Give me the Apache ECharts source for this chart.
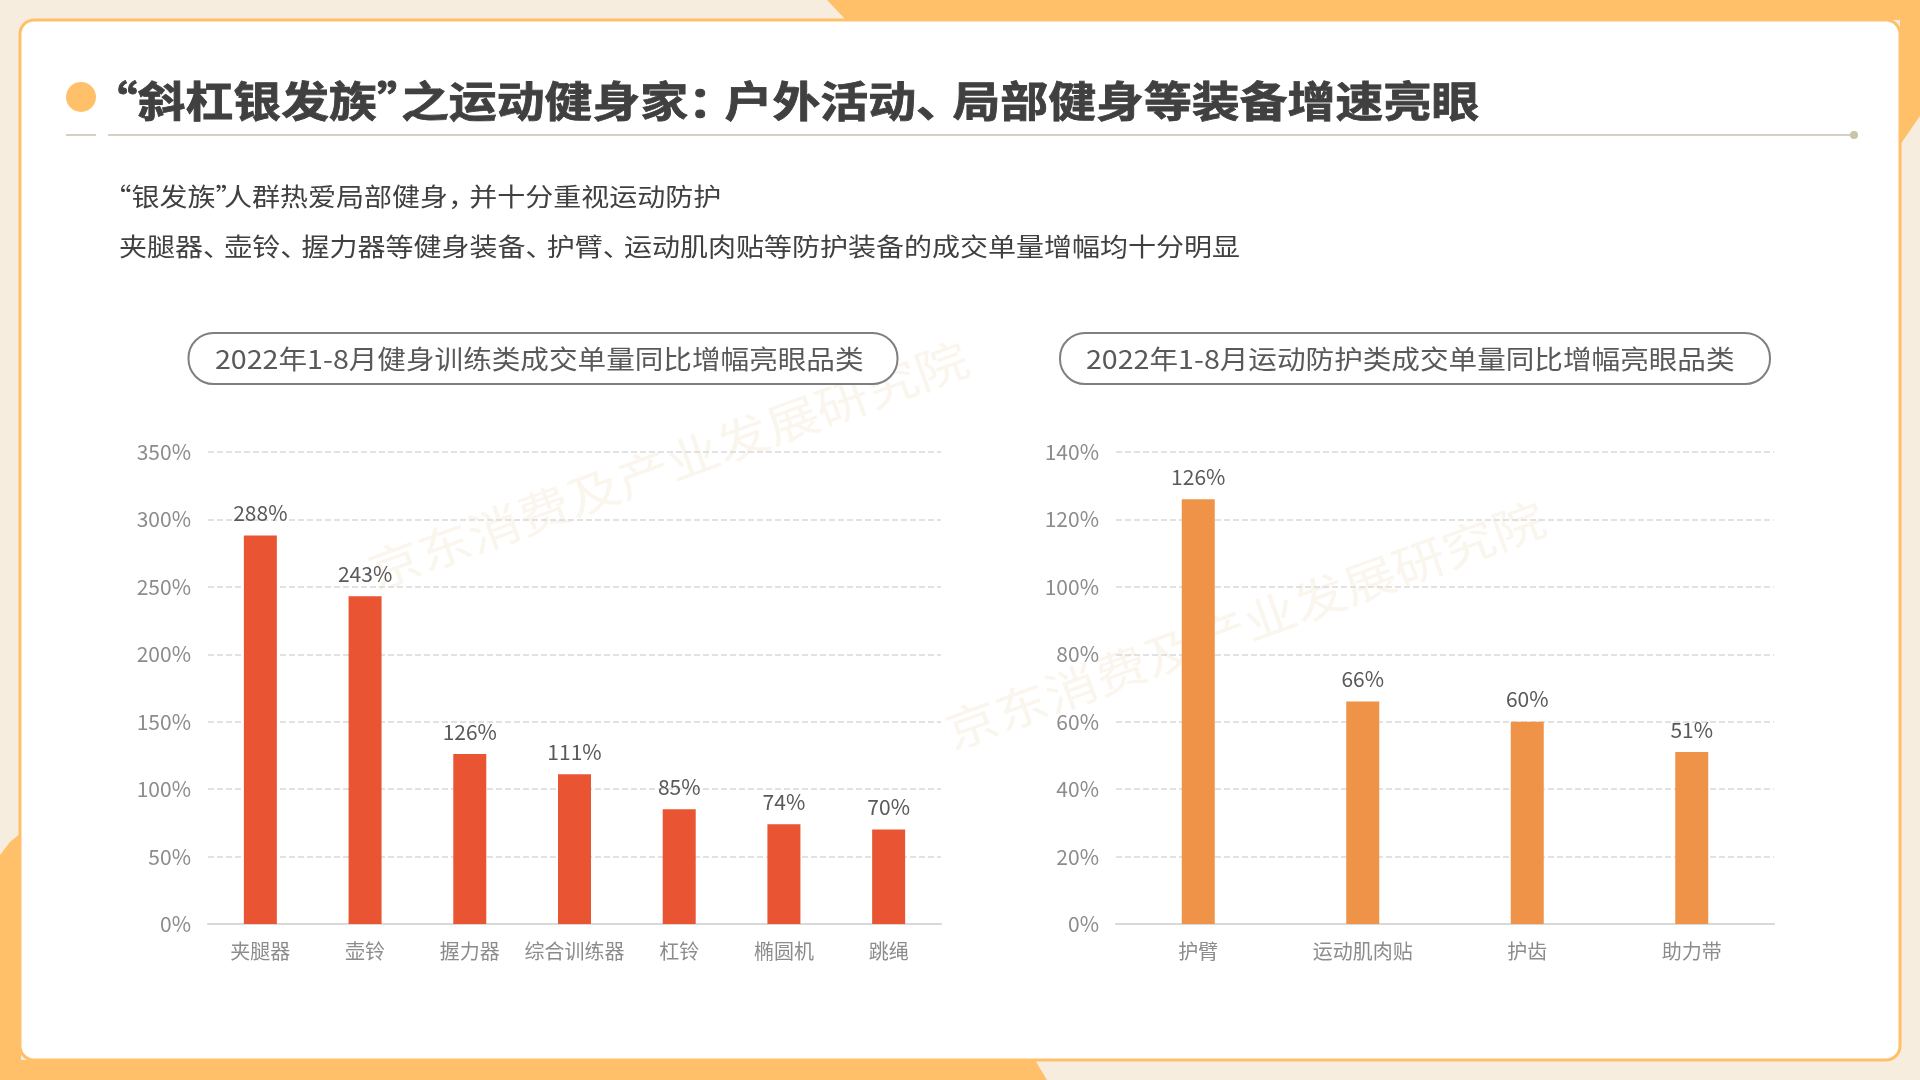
<!DOCTYPE html>
<html>
<head>
<meta charset="utf-8">
<title>斜杠银发族</title>
<script src="https://cdn.jsdelivr.net/npm/echarts@6/dist/echarts.min.js"></script>
<style>
  html, body { margin: 0; padding: 0; background: #f7eddf; }
  #main { width: 1920px; height: 1080px; }
</style>
</head>
<body>
<div id="main"></div>
<script>
// 数据
var fitnessCategories = ['夹腿器', '壶铃', '握力器', '综合训练器', '杠铃', '椭圆机', '跳绳']
var fitnessValues = [288, 243, 126, 111, 85, 74, 70]
var protectCategories = ['护臂', '运动肌肉贴', '护齿', '助力带']
var protectValues = [126, 66, 60, 51]

var titleText = '“斜杠银发族”之运动健身家：户外活动、局部健身等装备增速亮眼'
var subText1 = '“银发族”人群热爱局部健身，并十分重视运动防护'
var subText2 = '夹腿器、壶铃、握力器等健身装备、护臂、运动肌肉贴等防护装备的成交单量增幅均十分明显'
var pillText1 = '2022年1-8月健身训练类成交单量同比增幅亮眼品类'
var pillText2 = '2022年1-8月运动防护类成交单量同比增幅亮眼品类'
var watermark = '京东消费及产业发展研究院'

var FONT = '"Noto Sans CJK SC", sans-serif'
var ORANGE = '#ffc069'

function label(text, x, y, size, color, weight, sx) {
  var style = { text: text, fill: color, font: (weight || 'normal') + ' ' + size + 'px ' + FONT, verticalAlign: 'middle' }
  // 标题比 bold 还粗一点，描一下边
  if (weight === 'bold') {
    style.stroke = color
    style.lineWidth = 0.8
  }
  return { type: 'text', x: x, y: y, scaleX: sx || 1, z: 5, style: style }
}
// 原图标点是压缩过的，全角标点单独摆放
function flow(text, x, y, size, color, weight, sx, closeAdv) {
  var em = size * sx
  var out = []
  var cursor = x
  text.split(/([“”：、，])/).forEach(function (part) {
    if (!part) return
    if (part === '“') {
      out.push(label(part, cursor + 0.45 * em - em, y, size, color, weight, sx))
      cursor += 0.45 * em
    } else if (part === '”') {
      out.push(label(part, cursor, y, size, color, weight, sx))
      cursor += closeAdv * em
    } else if (/[：、，]/.test(part)) {
      out.push(label(part, cursor, y, size, color, weight, sx))
      cursor += 0.76 * em
    } else {
      out.push(label(part, cursor, y, size, color, weight, sx))
      cursor += part.length * em
    }
  })
  return out
}
function mark(x, y) {
  return {
    type: 'text', x: x, y: y, rotation: 20 * Math.PI / 180, scaleX: 1.15, z: -5,
    style: { text: watermark, fill: '#faf5ed', font: '46px ' + FONT, align: 'center', verticalAlign: 'middle' }
  }
}
function pill(x, w) {
  return {
    type: 'rect', z: 4, shape: { x: x, y: 333, width: w, height: 51, r: 25 },
    style: { fill: '#fff', stroke: '#7f7f7f', lineWidth: 2 }
  }
}

var decorations = [
  // 背景和卡片
  { type: 'polygon', z: -20, shape: { points: [[827, 0], [846, 20], [1900, 20], [1900, 145], [1920, 116], [1920, 0]] }, style: { fill: ORANGE } },
  { type: 'polygon', z: -20, shape: { points: [[0, 855], [10, 842], [21, 833], [21, 1060], [1035, 1060], [1047, 1080], [0, 1080]] }, style: { fill: ORANGE } },
  { type: 'rect', z: -10, shape: { x: 20, y: 20, width: 1880, height: 1040, r: 14 }, style: { fill: '#fff', stroke: ORANGE, lineWidth: 3 } },
  mark(668, 465),
  mark(1245, 625),
  // 标题
  { type: 'circle', z: 5, shape: { cx: 81, cy: 97, r: 15 }, style: { fill: ORANGE } },
  { type: 'rect', z: 5, shape: { x: 66, y: 134, width: 30, height: 2 }, style: { fill: '#d6d0c6' } },
  { type: 'rect', z: 5, shape: { x: 108, y: 134, width: 1746, height: 2 }, style: { fill: '#d6d0c6' } },
  { type: 'circle', z: 5, shape: { cx: 1854, cy: 135, r: 4 }, style: { fill: '#c9c5a8' } },
  pill(188.5, 709),
  pill(1060, 710),
  label(pillText1, 215, 359, 26, '#595959', 'normal', 1.1),
  label(pillText2, 1086, 359, 26, '#595959', 'normal', 1.1)
].concat(
  flow(titleText, 116, 101, 42, '#404040', 'bold', 1.14, 0.5),
  flow(subText1, 119, 196, 25, '#404040', 'normal', 1.12, 0.3),
  flow(subText2, 119, 246, 25, '#404040', 'normal', 1.12, 0.3)
)

function xAxisOf(gridIndex, cats) {
  return {
    type: 'category', gridIndex: gridIndex, data: cats,
    axisTick: { show: false },
    axisLine: { lineStyle: { color: '#d9d9d9', width: 2 } },
    axisLabel: { color: '#8c8c8c', fontSize: 20, fontFamily: FONT, margin: 17, interval: 0 }
  }
}
function yAxisOf(gridIndex, max, interval) {
  return {
    type: 'value', gridIndex: gridIndex, min: 0, max: max, interval: interval,
    axisLine: { show: false },
    axisTick: { show: false },
    axisLabel: { color: '#8c8c8c', fontSize: 21, fontFamily: FONT, margin: 17, formatter: '{value}%' },
    splitLine: { lineStyle: { color: '#d9d9d9', type: 'dashed', width: 1.5 } }
  }
}
function barOf(axisIndex, values, color) {
  return {
    type: 'bar', xAxisIndex: axisIndex, yAxisIndex: axisIndex, data: values, barWidth: 33,
    itemStyle: { color: color },
    label: { show: true, position: 'top', distance: 12, color: '#595959', fontSize: 21, fontFamily: FONT, formatter: '{c}%' }
  }
}

var myChart = echarts.init(document.getElementById('main'), null, { renderer: 'canvas' })
myChart.setOption({
  animation: false,
  backgroundColor: '#f7eddf',
  graphic: { elements: decorations },
  grid: [
    { left: 208, top: 452, width: 733, height: 472 },
    { left: 1116, top: 452, width: 658, height: 472 }
  ],
  xAxis: [xAxisOf(0, fitnessCategories), xAxisOf(1, protectCategories)],
  yAxis: [yAxisOf(0, 350, 50), yAxisOf(1, 140, 20)],
  series: [barOf(0, fitnessValues, '#e95532'), barOf(1, protectValues, '#ef9349')]
})
</script>
</body>
</html>
